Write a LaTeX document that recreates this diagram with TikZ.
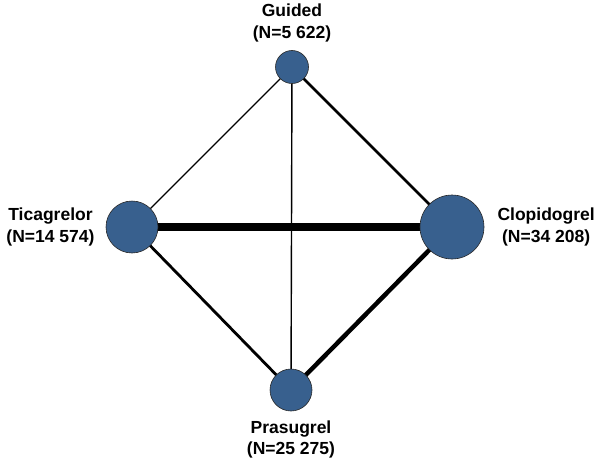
\documentclass[tikz,border=0pt]{standalone}
\usepackage{fontspec}
\setmainfont{Liberation Sans}
\usepackage{xcolor}
\definecolor{nmaBlue}{RGB}{56,96,142}
\definecolor{nmaEdge}{RGB}{40,40,40}
\usepackage{tikz}
\usetikzlibrary{positioning,backgrounds}

\begin{document}
\begin{tikzpicture}[x=1pt,y=-1pt,
  trt/.style={circle,draw=nmaEdge,line width=0.6pt,fill=nmaBlue,inner sep=0pt},
  lbl/.style={align=center,font=\fontsize{17.5}{21.5}\selectfont\bfseries,inner sep=0pt},
  w/.style={line width=#1,black}]
  \useasboundingbox (0,0) rectangle (600,463);
  % treatments (size ~ number of patients)
  \node[trt,minimum size=33pt] (gui) at (292,67) {};
  \node[trt,minimum size=52pt] (tic) at (132,227) {};
  \node[trt,minimum size=64pt] (clo) at (452,227) {};
  \node[trt,minimum size=42pt] (pra) at (291,390) {};
  \node[lbl,above=8pt of gui] {Guided\\(N=5 622)};
  \node[lbl,left=11pt of tic] {Ticagrelor\\(N=14 574)};
  \node[lbl,right=13pt of clo] {Clopidogrel\\(N=34 208)};
  \node[lbl,below=9pt of pra] {Prasugrel\\(N=25 275)};
  % comparisons (width ~ number of trials)
  \begin{scope}[on background layer]
    \draw[w=8pt](tic.center)--(clo.center);
    \draw[w=4.5pt](pra.center)--(clo.center);
    \draw[w=2.8pt](gui.center)--(clo.center);
    \draw[w=2.8pt](tic.center)--(pra.center);
    \draw[w=1.4pt](gui.center)--(tic.center);
    \draw[w=1.4pt](gui.center)--(pra.center);
  \end{scope}
\end{tikzpicture}
\end{document}
